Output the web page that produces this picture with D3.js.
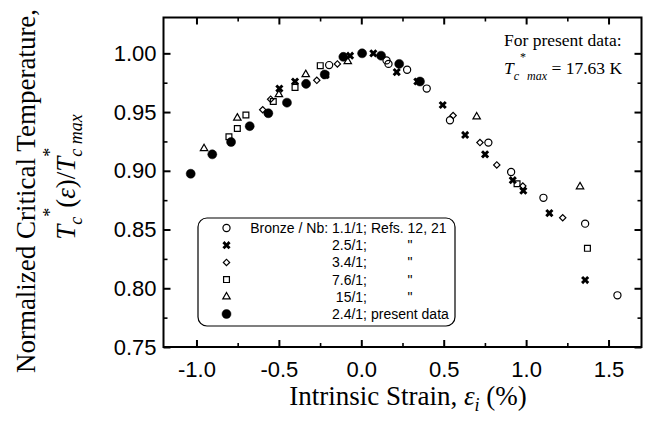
<!DOCTYPE html>
<html>
<head>
<meta charset="utf-8">
<script src="https://cdn.jsdelivr.net/npm/d3@7"></script>
<style>
  body { margin: 0; background: #fff; }
  svg { display: block; }
</style>
</head>
<body>
<svg id="chart" width="655" height="427"></svg>
<script>
// strain (%) vs normalized Tc*
var bronze11 = [[-0.195,0.990],[0.153,0.994],[0.165,0.991],[0.278,0.986],[0.397,0.970],[0.538,0.943],
                [0.771,0.924],[0.909,0.899],[1.105,0.877],[1.358,0.855],[1.554,0.794]];
var bronze25 = [[-0.497,0.970],[-0.402,0.976],[-0.216,0.9815],[-0.068,0.998],[0.073,1.0],[0.215,0.984],
                [0.34,0.976],[0.494,0.956],[0.63,0.9305],[0.751,0.914],[0.919,0.892],[0.983,0.883],
                [1.141,0.864],[1.358,0.807]];
var bronze34 = [[-0.598,0.952],[-0.55,0.961],[-0.27,0.977],[-0.145,0.991],[0.557,0.947],[0.72,0.924],
                [0.822,0.905],[0.98,0.887],[1.222,0.86]];
var bronze76 = [[-0.803,0.929],[-0.752,0.936],[-0.70,0.9475],[-0.534,0.959],[-0.402,0.971],[-0.249,0.9895],
                [0.945,0.889],[1.372,0.834]];
var bronze15 = [[-0.954,0.919],[-0.752,0.945],[-0.50,0.965],[-0.337,0.982],[-0.082,0.993],[0.70,0.946],
                [1.327,0.8865]];
var present24 = [[-1.035,0.8975],[-0.904,0.914],[-0.79,0.9245],[-0.677,0.938],[-0.564,0.949],[-0.451,0.958],
                 [-0.335,0.974],[-0.222,0.982],[-0.109,0.997],[0.005,1.0],[0.12,0.998],[0.23,0.991],[0.356,0.976]];

var xMajor = [-1.0, -0.5, 0.0, 0.5, 1.0, 1.5];
var xMinor = [-0.75, -0.25, 0.25, 0.75, 1.25];
var yMajor = [0.75, 0.80, 0.85, 0.90, 0.95, 1.00];
var yMinor = [0.775, 0.825, 0.875, 0.925, 0.975];

var legendLabels = ["1.1/1;", "2.5/1;", "3.4/1;", "7.6/1;", "15/1;", "2.4/1;"];

var svg = d3.select('#chart');
var L = 163.5, R = 641.5, T = 17.5, B = 347;
var x = d3.scaleLinear().domain([-1.2, 1.7]).range([L, R]);
var y = d3.scaleLinear().domain([0.75, 1.0305]).range([B, T]);

var sans = '"Liberation Sans", Arial, Helvetica, sans-serif';
var serif = '"Liberation Serif", "Times New Roman", Times, serif';

function axis(gen, tx, ty, vals, size, fmt, pad) {
  var g = svg.append('g')
      .attr('transform', 'translate(' + tx + ',' + ty + ')')
      .call(gen.tickValues(vals).tickSize(-size).tickSizeOuter(0).tickPadding(pad || 0).tickFormat(fmt || ''));
  g.select('.domain').remove();
  g.selectAll('line').attr('stroke', '#000').attr('stroke-width', size > 5 ? 2 : 1.6);
  g.attr('font-family', sans).attr('font-size', 22);
  g.selectAll('text').attr('fill', '#000');
  return g;
}

axis(d3.axisBottom(x), 0, B, xMajor, 7, function(d) { return d.toFixed(1); }, 14);
axis(d3.axisBottom(x), 0, B, xMinor, 4);
axis(d3.axisTop(x), 0, T, xMajor, 7);
axis(d3.axisTop(x), 0, T, xMinor, 4);
axis(d3.axisLeft(y), L, 0, yMajor, 7, function(d) { return d.toFixed(2); }, 7);
axis(d3.axisLeft(y), L, 0, yMinor, 4);
axis(d3.axisRight(y), R, 0, yMajor, 7);
axis(d3.axisRight(y), R, 0, yMinor, 4);

svg.append('rect')
    .attr('x', L).attr('y', T).attr('width', R - L).attr('height', B - T)
    .attr('fill', 'none').attr('stroke', '#000').attr('stroke-width', 2);

// marker styles
var styles = [
  { type: d3.symbolCircle, size: 40, rot: 0, fill: 'none', sw: 1.2 },
  { type: d3.symbolCross, size: 42, rot: 45, fill: '#000', sw: 0 },
  { type: d3.symbolSquare, size: 20, rot: 45, fill: 'none', sw: 1.2 },
  { type: d3.symbolSquare, size: 34, rot: 0, fill: 'none', sw: 1.2 },
  { type: d3.symbolTriangle, size: 24, rot: 0, fill: 'none', sw: 1.2 },
  { type: d3.symbolCircle, size: 64, rot: 0, fill: '#000', sw: 0.5 }
];
var series = [bronze11, bronze25, bronze34, bronze76, bronze15, present24];

function marker(sel, st) {
  sel.attr('d', d3.symbol().type(st.type).size(st.size))
     .attr('fill', st.fill)
     .attr('stroke', '#000')
     .attr('stroke-width', st.sw);
}

series.forEach(function(data, i) {
  var st = styles[i];
  svg.append('g').selectAll('path').data(data).enter().append('path')
      .attr('transform', function(d) { return 'translate(' + x(d[0]) + ',' + y(d[1]) + ') rotate(' + st.rot + ')'; })
      .call(marker, st);
});

// legend
var lg = svg.append('g');
lg.append('rect').attr('x', 198).attr('y', 218).attr('width', 257).attr('height', 108)
    .attr('rx', 9).attr('fill', '#fff').attr('stroke', '#000').attr('stroke-width', 1.2);
var rowY = d3.scaleLinear().domain([0, 5]).range([228, 314]);
function ltext(tx, ty, s, anchor) {
  return lg.append('text').attr('font-family', sans).attr('font-size', 14).attr('fill', '#000')
      .attr('x', tx).attr('y', ty).attr('text-anchor', anchor || 'start').text(s);
}
legendLabels.forEach(function(lab, i) {
  var st = styles[i];
  lg.append('path')
      .attr('transform', 'translate(226.5,' + rowY(i) + ') rotate(' + st.rot + ')')
      .call(marker, st);
  var yy = rowY(i) + 5;
  if (i === 0) {
    ltext(367, yy, 'Bronze / Nb: ' + lab, 'end');
    ltext(371, yy, 'Refs. 12, 21');
  } else if (i === 5) {
    ltext(367, yy, lab, 'end');
    ltext(371, yy, 'present data');
  } else {
    ltext(367, yy, lab, 'end');
    ltext(410, yy, '"', 'middle');
  }
});

// note, upper right
svg.append('text').attr('font-family', serif).attr('font-size', 17.5)
    .attr('x', 504).attr('y', 46).text('For present data:');
var note = svg.append('text').attr('font-family', serif).attr('font-size', 17.5)
    .attr('x', 504).attr('y', 74);
note.append('tspan').attr('font-style', 'italic').text('T');
note.append('tspan').attr('font-style', 'italic').attr('font-size', 12).attr('dy', 6).text('c');
note.append('tspan').attr('font-size', 12).attr('dy', -19).attr('dx', 1).text('*');
note.append('tspan').attr('font-style', 'italic').attr('font-size', 12).attr('dy', 19).attr('dx', 1).text('max');
note.append('tspan').attr('dy', -6).text(' = 17.63 K');

// axis titles
var xt = svg.append('text').attr('font-family', serif).attr('font-size', 27)
    .attr('x', 408).attr('y', 405).attr('text-anchor', 'middle');
xt.append('tspan').text('Intrinsic Strain, ');
xt.append('tspan').attr('font-style', 'italic').text('ε');
xt.append('tspan').attr('font-style', 'italic').attr('font-size', 18).attr('dy', 6).text('i');
xt.append('tspan').attr('dy', -6).text(' (%)');

svg.append('text').attr('font-family', serif).attr('font-size', 27)
    .attr('transform', 'translate(35,191) rotate(-90)').attr('text-anchor', 'middle')
    .text('Normalized Critical Temperature,');

var yt = svg.append('text').attr('font-family', serif).attr('font-size', 27)
    .attr('transform', 'translate(75,177) rotate(-90)').attr('text-anchor', 'middle');
yt.append('tspan').attr('font-style', 'italic').text('T');
yt.append('tspan').attr('font-style', 'italic').attr('font-size', 18).attr('dy', 7).text('c');
yt.append('tspan').attr('font-size', 18).attr('dy', -26).attr('dx', 0).text('*');
yt.append('tspan').attr('dy', 19).text('(');
yt.append('tspan').attr('font-style', 'italic').text('ε');
yt.append('tspan').text(')/');
yt.append('tspan').attr('font-style', 'italic').text('T');
yt.append('tspan').attr('font-size', 18).attr('dy', -19).text('*');
yt.append('tspan').attr('font-style', 'italic').attr('font-size', 18).attr('dy', 26).attr('dx', -9).text('c max');
</script>
</body>
</html>
